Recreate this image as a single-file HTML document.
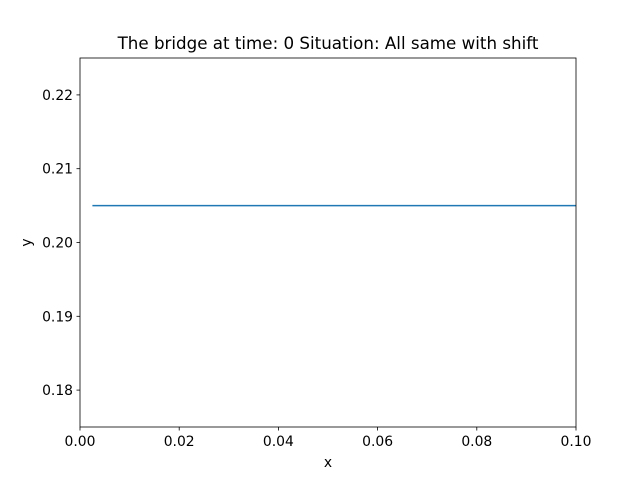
<!DOCTYPE html>
<html><head><meta charset="utf-8"><style>
body{margin:0;background:#fff;}
text{font-family:"DejaVu Sans","Liberation Sans",sans-serif;font-size:13.9px;fill:#000;}
</style></head><body>
<svg id="chart" width="640" height="480">
<rect x="0" y="0" width="640" height="480" fill="#fff"/>
<text x="328" y="49" text-anchor="middle" style="font-size:16.7px">The bridge at time: 0 Situation: All same with shift</text>
<g id="axes"></g>
</svg>
<script>
const xTicks=[0,0.02,0.04,0.06,0.08,0.10];
const xTickLabels=["0.00","0.02","0.04","0.06","0.08","0.10"];
const yTicks=[0.18,0.19,0.20,0.21,0.22];
const yTickLabels=["0.18","0.19","0.20","0.21","0.22"];
const seriesX=[0.0025,0.1];
const seriesY=[0.205,0.205];
const L=80,R=576,T=58,B=427,xMin=0,xMax=0.1,yMin=0.175,yMax=0.225;
const sx=v=>L+(v-xMin)/(xMax-xMin)*(R-L);
const sy=v=>B-(v-yMin)/(yMax-yMin)*(B-T);
const NS="http://www.w3.org/2000/svg";
const g=document.getElementById('axes');
function mk(t,a){const e=document.createElementNS(NS,t);for(const k in a)e.setAttribute(k,a[k]);g.appendChild(e);return e;}
const line=mk('polyline',{points:seriesX.map((x,i)=>sx(x)+','+sy(seriesY[i])).join(' '),fill:'none',stroke:'#1f77b4','stroke-width':1.5});


xTicks.forEach((v,i)=>{
  const t=mk('line',{x1:sx(v),x2:sx(v),y1:B,y2:B+3.5,stroke:'#000','stroke-width':0.8});
  
  
  const l=mk('text',{x:sx(v),y:B+19,'text-anchor':'middle'});l.textContent=xTickLabels[i];
  
  
});
yTicks.forEach((v,i)=>{
  const t=mk('line',{x1:L-3.5,x2:L,y1:sy(v),y2:sy(v),stroke:'#000','stroke-width':0.8});
  
  
  const l=mk('text',{x:L-7,y:sy(v)+5,'text-anchor':'end'});l.textContent=yTickLabels[i];
  
  
});
const f=mk('rect',{x:L,y:T,width:R-L,height:B-T,fill:'none',stroke:'#000','stroke-width':0.8});


const xl=mk('text',{x:(L+R)/2,y:467,'text-anchor':'middle'});xl.textContent='x';


const yl=mk('text',{x:0,y:0,'text-anchor':'middle',transform:'translate(31,'+((T+B)/2)+') rotate(-90)'});yl.textContent='y';


</script>
</body></html>
